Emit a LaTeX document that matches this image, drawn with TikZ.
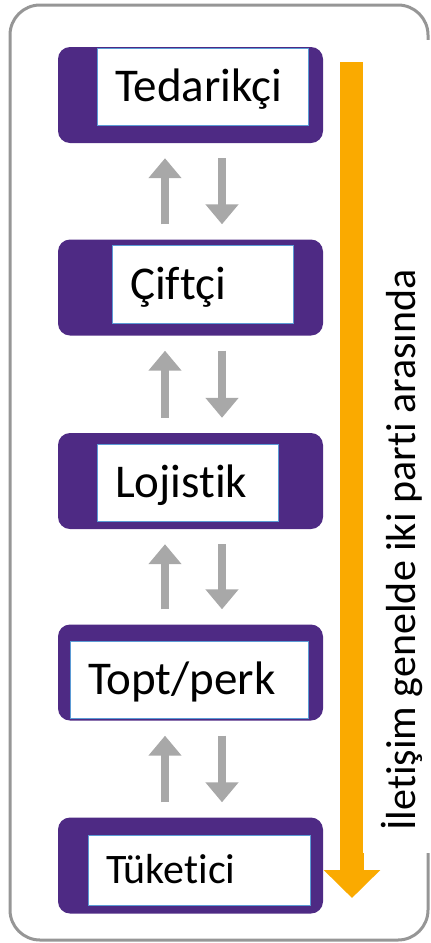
\documentclass[tikz,border=0pt]{standalone}
\usepackage{fontspec}
\setmainfont{Carlito}[RawFeature={-liga}]
\usetikzlibrary{arrows.meta}
\definecolor{stagepurple}{RGB}{78,42,132}
\definecolor{labelblue}{RGB}{91,155,213}
\definecolor{flowgray}{RGB}{168,168,168}
\definecolor{frameorange}{RGB}{250,170,0}
\definecolor{framegray}{RGB}{150,150,150}

\begin{document}
\begin{tikzpicture}[x=1pt, y=-1pt,
    stage/.style={fill=stagepurple, rounded corners=12pt, minimum width=265pt, minimum height=96pt, inner sep=0pt},
    stagelabel/.style={draw=labelblue, line width=1pt, fill=white, inner xsep=18pt, inner ysep=0pt,
        align=left, text height=30pt, text depth=0pt, font=\fontsize{47}{56}\selectfont},
    flow/.style={draw=flowgray, line width=8pt, -{Triangle[width=32pt,length=20pt]},
        shorten >=15pt, shorten <=15pt}]

\useasboundingbox (0,0) rectangle (431,943);

\draw[framegray, line width=3pt, rounded corners=30pt] (10,5) rectangle (428,940);

\node[stage] (p1) at (190.5,95) {};
\node[stage] (p2) at (190.5,287.5) {};
\node[stage] (p3) at (190.5,481) {};
\node[stage] (p4) at (190.5,672.5) {};
\node[stage] (p5) at (190.5,865.5) {};

\node[stagelabel, minimum width=211pt, minimum height=77pt, text width=175pt] (t1) at (202.5,86.5) {Tedarikçi};
\node[stagelabel, minimum width=181pt, minimum height=78pt, text width=145pt] (t2) at (202.5,284) {Çiftçi};
\node[stagelabel, minimum width=181pt, minimum height=77pt, text width=145pt] (t3) at (187.5,482.5) {Lojistik};
\node[stagelabel, minimum width=238pt, minimum height=77pt, text width=202pt] (t4) at (189,679.5) {Topt/perk};
\node[stagelabel, minimum width=222pt, minimum height=70pt, text width=186pt,
    font=\fontsize{42}{50}\selectfont, text height=26.5pt] (t5) at (199,870) {Tüketici};

\foreach \a/\b in {p1/p2, p2/p3, p3/p4, p4/p5} {
    \draw[flow] ([xshift=-25.5pt]\b.north) -- ([xshift=-25.5pt]\a.south);
    \draw[flow] ([xshift=31.5pt]\a.south) -- ([xshift=31.5pt]\b.north);
}

\coordinate (flowtop) at (352,62);
\coordinate (flowend) at (352,898);
\draw[frameorange, line width=24pt, -{Triangle[width=55pt,length=28pt]}] (flowtop) -- (flowend);

\fill[white] (363,40) rectangle (431,853);
\node[rotate=90, anchor=base, font=\fontsize{42}{50}\selectfont] (note) at (415,550)
    {İletişim genelde iki parti arasında};

\end{tikzpicture}
\end{document}
